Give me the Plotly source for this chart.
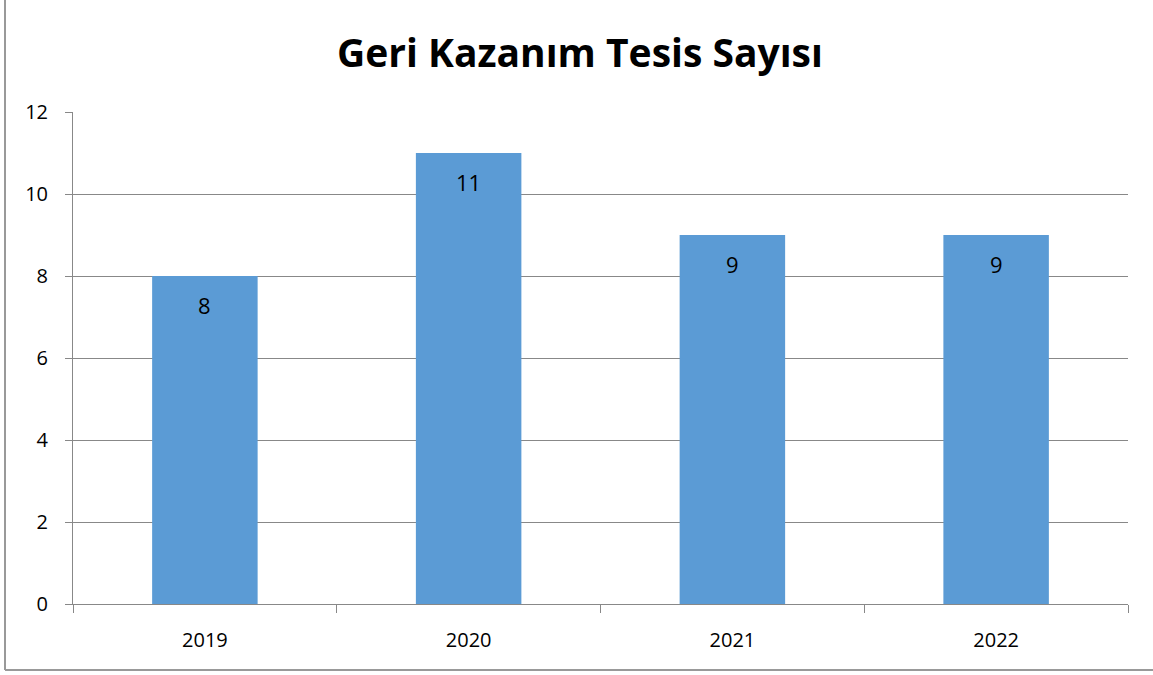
import plotly.graph_objects as go

years = ["2019", "2020", "2021", "2022"]
counts = [8, 11, 9, 9]
y_ticks = [0, 2, 4, 6, 8, 10, 12]

FONT = "Open Sans"
fig = go.Figure()
fig.add_trace(go.Bar(
    x=years, y=counts, width=0.4,
    marker=dict(color="#5B9BD5", line=dict(width=0)),
    hoverinfo="x+y",
))
for i, v in enumerate(counts):
    fig.add_annotation(x=i, y=v, text=str(v), showarrow=False, yshift=-29,
                       font=dict(family=FONT, size=22, color="black"))

fig.update_layout(
    width=1153, height=675,
    margin=dict(l=73, r=25, t=112, b=71),
    paper_bgcolor="white", plot_bgcolor="white",
    showlegend=False,
    title=dict(text="<b>Geri Kazanım Tesis Sayısı</b>", x=0.503, xanchor="center",
               y=1 - 53 / 675, yanchor="middle", yref="container",
               font=dict(family=FONT, size=39, color="black")),
    xaxis=dict(type="category", tickson="boundaries", ticks="outside", ticklen=8,
               tickcolor="#888888", showline=True, linecolor="#888888", linewidth=1,
               showgrid=False, tickfont=dict(family=FONT, size=20, color="black"),
               ticklabelstandoff=18, automargin=False, range=[-0.5, 3.5]),
    yaxis=dict(range=[0, 12], tickvals=y_ticks, ticks="outside", ticklen=7,
               tickcolor="#888888", showline=True, linecolor="#888888", linewidth=1,
               showgrid=True, gridcolor="#888888", gridwidth=1, zeroline=False,
               tickfont=dict(family=FONT, size=20, color="black"),
               ticklabelstandoff=13, automargin=False),
    shapes=[
        dict(type="line", xref="paper", yref="paper", x0=-68 / 1055, x1=1.1,
             y0=-66 / 492, y1=-66 / 492, line=dict(color="#999999", width=2)),
        dict(type="line", xref="paper", yref="paper", x0=-68 / 1055, x1=-68 / 1055,
             y0=-66 / 492, y1=1.3, line=dict(color="#999999", width=2)),
    ],
)
fig.write_html("out.html", config={"displayModeBar": False},
               post_script="document.body.style.margin='0';document.body.style.overflow='hidden';")
